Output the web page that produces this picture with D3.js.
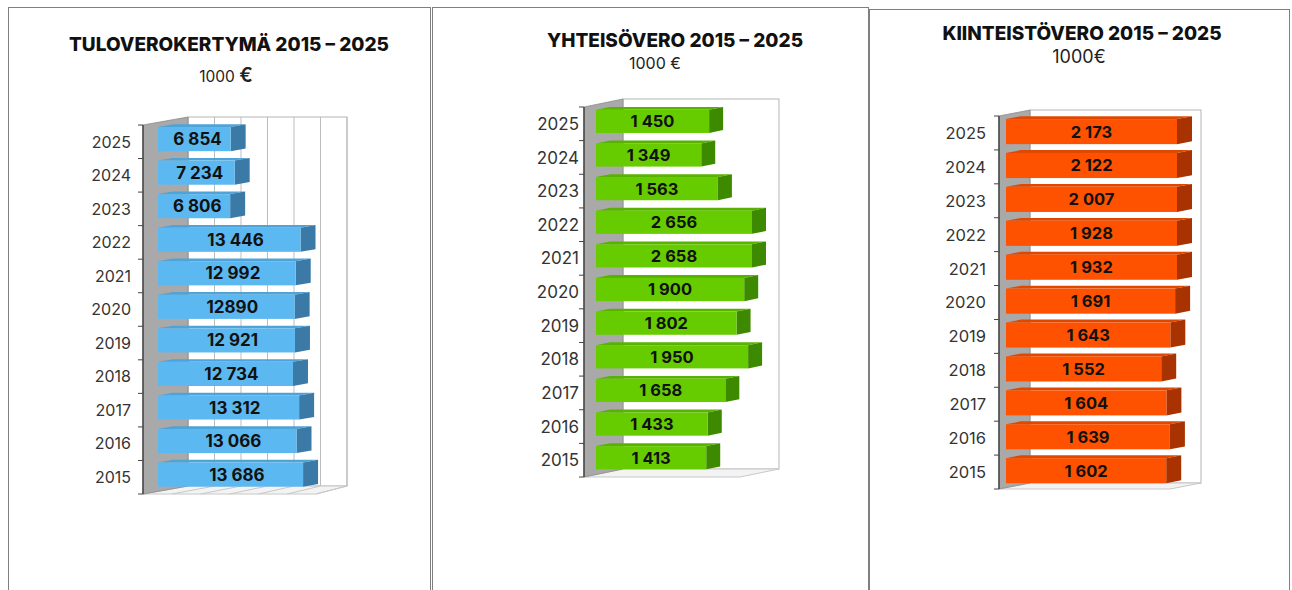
<!DOCTYPE html>
<html>
<head>
<meta charset="utf-8">
<script src="https://cdn.jsdelivr.net/npm/d3@7"></script>
<style>
  body { margin: 0; background: #fff; }
  svg text { font-family: Inter, "Open Sans", sans-serif; }
</style>
</head>
<body>
<script>
// years, bottom to top
const years = ["2015","2016","2017","2018","2019","2020","2021","2022","2023","2024","2025"];

const tuloValues = [13686, 13066, 13312, 12734, 12921, 12890, 12992, 13446, 6806, 7234, 6854];
const tuloLabels = ["13 686","13 066","13 312","12 734","12 921","12890","12 992","13 446","6 806","7 234","6 854"];

const yhteisoValues = [1413, 1433, 1658, 1950, 1802, 1900, 2658, 2656, 1563, 1349, 1450];
const yhteisoLabels = ["1 413","1 433","1 658","1 950","1 802","1 900","2 658","2 656","1 563","1 349","1 450"];

const kiintValues = [1602, 1639, 1604, 1552, 1643, 1691, 1932, 1928, 2007, 2122, 2173];
const kiintLabels = ["1 602","1 639","1 604","1 552","1 643","1 691","1 932","1 928","2 007","2 122","2 173"];

const tuloGrid = [0, 2500, 5000, 7500, 10000, 12500, 15000];

const w = 1292, h = 590;
const svg = d3.select("body").append("svg").attr("width", w).attr("height", h);

// panel frames
const frames = [[8, 7, 422], [432, 7, 436], [869, 9, 420]];
frames.forEach(function(f){
  svg.append("rect").attr("x", f[0] + 0.5).attr("y", f[1] + 0.5)
    .attr("width", f[2]).attr("height", 620)
    .attr("fill", "none").attr("stroke", "#7f7f7f");
});

function drawPanel(cfg){
  const g = svg.append("g");

  // titles
  g.append("text").attr("x", cfg.titleX).attr("y", cfg.titleY)
    .attr("text-anchor", "middle").attr("font-size", 19).attr("font-weight", 800)
    .attr("fill", "#111").text(cfg.title);
  const sub = g.append("text").attr("x", cfg.subX).attr("y", cfg.subY)
    .attr("text-anchor", "middle").attr("font-size", cfg.subSize).attr("fill", "#222");
  sub.append("tspan").text(cfg.subText);
  sub.append("tspan").attr("font-size", cfg.euroSize).attr("font-weight", cfg.euroWeight).text("€");

  const x0 = cfg.x0, DX = cfg.DX, DY = cfg.DY;

  const xScale = d3.scaleLinear().domain([0, cfg.max]).range([0, cfg.width]).clamp(true);
  const yScale = d3.scaleBand().domain(years.slice().reverse())
    .range([cfg.yTop, cfg.yBot]).paddingInner(cfg.pad).paddingOuter(cfg.pad / 2);

  // back plane
  g.append("rect")
    .attr("x", x0 + DX).attr("y", cfg.yTop + DY)
    .attr("width", xScale(cfg.max)).attr("height", cfg.yBot - cfg.yTop)
    .attr("fill", "#fff").attr("stroke", "#b5b5b5");

  // floor
  const floor = [[x0, cfg.yBot], [x0 + DX, cfg.yBot + DY],
                 [x0 + DX + xScale(cfg.max), cfg.yBot + DY], [x0 + xScale(cfg.max) + cfg.floorExtra, cfg.yBot]];
  g.append("polygon").attr("points", floor.join(" "))
    .attr("fill", "#f3f3f3").attr("stroke", "#c8c8c8");

  if (cfg.grid) {
    g.selectAll(".grid").data(cfg.grid).enter().append("line")
      .attr("x1", function(d){ return x0 + DX + xScale(d); })
      .attr("x2", function(d){ return x0 + DX + xScale(d); })
      .attr("y1", cfg.yTop + DY).attr("y2", cfg.yBot + DY)
      .attr("stroke", "#bdbdbd");
    g.selectAll(".fgrid").data(cfg.grid).enter().append("line")
      .attr("x1", function(d){ return x0 + xScale(d) * (1 + cfg.floorExtra / cfg.width); })
      .attr("x2", function(d){ return x0 + DX + xScale(d); })
      .attr("y1", cfg.yBot).attr("y2", cfg.yBot + DY)
      .attr("stroke", "#c8c8c8");
  }

  // left wall
  const wall = [[x0, cfg.yTop], [x0 + DX, cfg.yTop + DY], [x0 + DX, cfg.yBot + DY], [x0, cfg.yBot]];
  g.append("polygon").attr("points", wall.join(" "))
    .attr("fill", "#a9a9a9").attr("stroke", "#8c8c8c").attr("stroke-width", 0.8);
  g.append("line").attr("x1", x0).attr("x2", x0).attr("y1", cfg.yTop).attr("y2", cfg.yBot)
    .attr("stroke", "#444").attr("stroke-width", 1.5);

  // boundary ticks
  const bounds = years.map(function(d){ return yScale(d) - yScale.step() * cfg.pad / 2; });
  bounds.push(cfg.yBot);
  g.selectAll(".tick-b").data(bounds).enter().append("line")
    .attr("x1", x0 - 5).attr("x2", x0)
    .attr("y1", function(d){ return d; }).attr("y2", function(d){ return d; })
    .attr("stroke", "#444");

  // category labels
  const axis = g.append("g").attr("transform", "translate(" + x0 + ",0)")
    .call(d3.axisLeft(yScale).tickSize(0).tickPadding(cfg.labelGap));
  axis.select(".domain").remove();
  axis.selectAll("text").attr("font-size", cfg.catSize).attr("fill", "#333")
    .attr("font-family", "Inter, sans-serif").attr("dy", "0.36em");

  // bars
  const shift = DY * cfg.barOff / DX;
  const bdx = cfg.barDepth, bdy = DY * cfg.barDepth / DX;
  const bh = yScale.bandwidth();
  const bars = g.selectAll(".bar").data(cfg.values).enter().append("g");

  bars.each(function(d, i){
    const b = d3.select(this);
    const xa = x0 + cfg.barOff;
    const xb = xa + xScale(d);
    const y = yScale(years[i]) + shift;
    b.append("polygon")
      .attr("points", [[xa, y], [xa + bdx, y + bdy], [xb + bdx, y + bdy], [xb, y]].join(" "))
      .attr("fill", cfg.top);
    b.append("polygon")
      .attr("points", [[xb, y], [xb + bdx, y + bdy], [xb + bdx, y + bh + bdy], [xb, y + bh]].join(" "))
      .attr("fill", cfg.side);
    b.append("rect").attr("x", xa).attr("y", y).attr("width", xb - xa).attr("height", bh)
      .attr("fill", cfg.front);
    b.append("text").attr("x", (xa + xb) / 2 + cfg.labelShift * xScale(d) / cfg.width)
      .attr("y", y + bh / 2).attr("dy", "0.36em")
      .attr("text-anchor", "middle").attr("font-size", cfg.valSize).attr("font-weight", 700)
      .attr("fill", "#111").text(cfg.labels[i]);
  });
}

drawPanel({
  title: "TULOVEROKERTYMÄ 2015 – 2025", titleX: 229, titleY: 51,
  subText: "1000 ", subX: 226, subY: 82, subSize: 15.5, euroSize: 20, euroWeight: 600,
  values: tuloValues, labels: tuloLabels, grid: tuloGrid,
  x0: 143, yTop: 125, yBot: 494, DX: 45, DY: -8, barOff: 15, barDepth: 15,
  max: 15000, width: 159, floorExtra: 14, pad: 0.28, labelShift: 7,
  labelGap: 12, catSize: 16, valSize: 17,
  front: "#5cb8f0", side: "#3b7aa6", top: "#4ea3d8"
});

drawPanel({
  title: "YHTEISÖVERO 2015 – 2025", titleX: 675, titleY: 47,
  subText: "1000 ", subX: 655, subY: 69, subSize: 16, euroSize: 16, euroWeight: 400,
  values: yhteisoValues, labels: yhteisoLabels, grid: null,
  x0: 584, yTop: 107, yBot: 477, DX: 39, DY: -8, barOff: 12, barDepth: 14,
  max: 2000, width: 156, floorExtra: 0, pad: 0.31, labelShift: 0,
  labelGap: 5, catSize: 17, valSize: 16.5,
  front: "#66cc00", side: "#3d8a00", top: "#58b300"
});

drawPanel({
  title: "KIINTEISTÖVERO 2015 – 2025", titleX: 1082, titleY: 40,
  subText: "1000", subX: 1079, subY: 63, subSize: 18, euroSize: 18, euroWeight: 400,
  values: kiintValues, labels: kiintLabels, grid: null,
  x0: 999, yTop: 116, yBot: 489, DX: 31, DY: -6, barOff: 7, barDepth: 15,
  max: 1710, width: 171, floorExtra: 0, pad: 0.26, labelShift: 0,
  labelGap: 13, catSize: 16.5, valSize: 16.5,
  front: "#ff5200", side: "#a83200", top: "#e04800"
});
</script>
</body>
</html>
